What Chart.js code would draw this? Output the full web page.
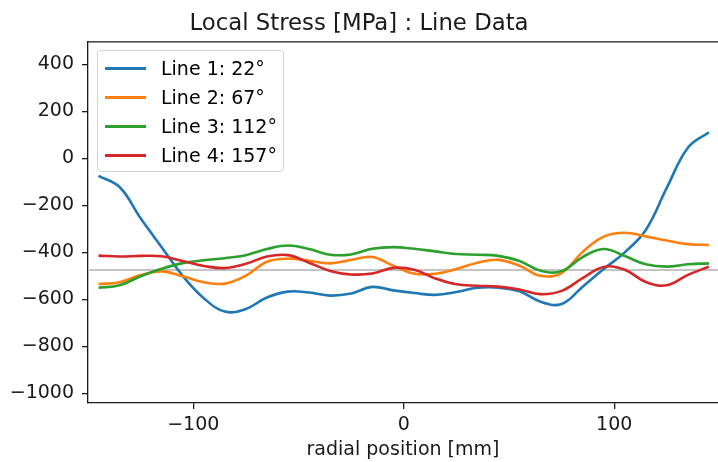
<!DOCTYPE html>
<html>
<head>
<meta charset="utf-8">
<title>Local Stress [MPa] : Line Data</title>
<script src="https://cdn.jsdelivr.net/npm/chart.js@4.4.0/dist/chart.umd.min.js"></script>
<style>
  html, body { margin: 0; padding: 0; background: #fff; }
  .wrap { position: relative; width: 718px; height: 462px; overflow: hidden; }
  #stressChart { display: block; }
  #chart-legend {
    position: absolute; left: 97px; top: 50px; width: 187px; height: 122px;
    box-sizing: border-box; border: 1px solid #d4d4d4; border-radius: 4px;
    background: rgba(255,255,255,0.8);
    font-family: 'DejaVu Sans', sans-serif; font-size: 19px; color: #000;
  }
  .legend-item { position: absolute; left: 0; height: 24px; width: 100%; }
  .legend-line { position: absolute; left: 7px; top: 11px; width: 41px; height: 2.6px; }
  .legend-text { position: absolute; left: 63px; top: 0; line-height: 24px; white-space: nowrap; }
</style>
</head>
<body>
<div class="wrap">
  <canvas id="stressChart" width="718" height="462"></canvas>
  <div id="chart-legend"></div>
</div>
<script>
'use strict';

/* ── Data ────────────────────────────────────────────── */

var positions = [-145, -135, -125, -115, -105, -95, -85, -75, -65, -55,
                 -45, -35, -25, -15, -5, 5, 15, 25, 35, 45,
                 55, 65, 75, 85, 95, 105, 115, 125, 135, 145];

var line1 = [-75, -122, -255, -378, -500, -595, -652, -641, -592, -567,
             -571, -584, -575, -547, -562, -573, -581, -569, -551, -550,
             -566, -610, -620, -546, -471, -400, -305, -125, 45, 111];

var line2 = [-535, -527, -497, -481, -502, -527, -533, -499, -440, -427,
             -436, -447, -432, -420, -457, -491, -491, -471, -444, -432,
             -457, -500, -488, -398, -333, -317, -332, -350, -365, -369];

var line3 = [-551, -540, -502, -470, -446, -434, -425, -412, -386, -371,
             -386, -410, -409, -385, -378, -385, -396, -407, -410, -415,
             -437, -478, -480, -420, -386, -416, -451, -461, -451, -447];

var line4 = [-414, -418, -415, -417, -437, -458, -467, -449, -418, -412,
             -444, -479, -494, -490, -466, -474, -511, -536, -542, -546,
             -558, -578, -564, -510, -462, -474, -526, -540, -496, -461];

var seriesLabels = ['Line 1: 22°', 'Line 2: 67°', 'Line 3: 112°', 'Line 4: 157°'];
var seriesColors = ['#1f77b4', '#ff7f0e', '#2ca02c', '#d62728'];

var refLevel = -475;

var xTicks = [-100, 0, 100];
var yTicks = [-1000, -800, -600, -400, -200, 0, 200, 400];

(function () {
  var X_MIN = -150, X_MAX = 149.3;
  var Y_MIN = -1041, Y_MAX = 495;
  var INK = '#1a1a1a';

  Chart.defaults.font.family = "'DejaVu Sans', sans-serif";
  Chart.defaults.color = INK;

  /* ── Helpers ─────────────────────────────────────────── */

  function toPoints(vals) {
    return positions.map(function (x, i) { return { x: x, y: vals[i] }; });
  }

  /* matplotlib style unicode minus */
  function fmtTick(v) {
    return v < 0 ? '\u2212' + Math.abs(v) : String(v);
  }

  /* Top spine (Chart.js only draws the axis borders) */
  var framePlugin = {
    id: 'frame',
    afterDatasetsDraw: function (chart) {
      var a = chart.chartArea, ctx = chart.ctx;
      ctx.save();
      ctx.strokeStyle = INK;
      ctx.lineWidth = 1.3;
      ctx.beginPath();
      ctx.moveTo(a.left, a.top);
      ctx.lineTo(a.right + 2, a.top);
      ctx.stroke();
      ctx.restore();
    }
  };

  /* ── Datasets ────────────────────────────────────────── */

  var series = [line1, line2, line3, line4];
  var datasets = series.map(function (vals, i) {
    return {
      label: seriesLabels[i],
      data: toPoints(vals),
      borderColor: seriesColors[i],
      backgroundColor: seriesColors[i],
      borderWidth: 2.6,
      pointRadius: 0,
      tension: 0.4,
      fill: false,
      order: 4 - i
    };
  });

  datasets.push({
    label: 'reference',
    data: [{ x: X_MIN, y: refLevel }, { x: X_MAX, y: refLevel }],
    borderColor: '#c4c4c4',
    borderWidth: 2,
    pointRadius: 0,
    fill: false,
    order: 10
  });

  var axisGrid = { drawOnChartArea: false, drawTicks: true, tickLength: 6, color: INK, lineWidth: 1.3 };
  var axisBorder = { display: true, color: INK, width: 1.3 };
  var tickFont = { size: 19 };

  var chart = new Chart(document.getElementById('stressChart'), {
    type: 'line',
    data: { datasets: datasets },
    plugins: [framePlugin],
    options: {
      responsive: false,
      animation: false,
      layout: { padding: { left: 0, right: 0, top: 0, bottom: 0 } },
      plugins: {
        legend: { display: false },
        tooltip: { enabled: false },
        title: {
          display: true,
          text: 'Local Stress [MPa] : Line Data',
          color: INK,
          font: { size: 22.8, weight: 'normal' },
          padding: { top: 10, bottom: 4.6 }
        }
      },
      scales: {
        x: {
          type: 'linear',
          min: X_MIN,
          max: X_MAX,
          afterFit: function (s) { s.height = 59; },
          afterBuildTicks: function (s) {
            s.ticks = xTicks.map(function (v) { return { value: v }; });
          },
          grid: axisGrid,
          border: axisBorder,
          ticks: { color: INK, padding: 5, font: tickFont, maxRotation: 0, callback: fmtTick },
          title: {
            display: true,
            text: 'radial position [mm]',
            color: INK,
            font: { size: 19 },
            padding: { top: 0, bottom: 1 }
          }
        },
        y: {
          type: 'linear',
          min: Y_MIN,
          max: Y_MAX,
          afterFit: function (s) { s.width = 88; },
          afterBuildTicks: function (s) {
            s.ticks = yTicks.map(function (v) { return { value: v }; });
          },
          grid: axisGrid,
          border: axisBorder,
          ticks: { color: INK, padding: 8, font: tickFont, callback: fmtTick }
        }
      }
    }
  });

  /* ── Legend (HTML, upper left inside the axes) ───────── */

  var legendEl = document.getElementById('chart-legend');
  legendEl.innerHTML = chart.data.datasets.slice(0, seriesLabels.length).map(function (ds, i) {
    var top = 5 + i * 29;
    return '<div class="legend-item" style="top:' + top + 'px">' +
      '<span class="legend-line" style="background:' + ds.borderColor + '"></span>' +
      '<span class="legend-text">' + ds.label + '</span>' +
      '</div>';
  }).join('');
})();
</script>
</body>
</html>
